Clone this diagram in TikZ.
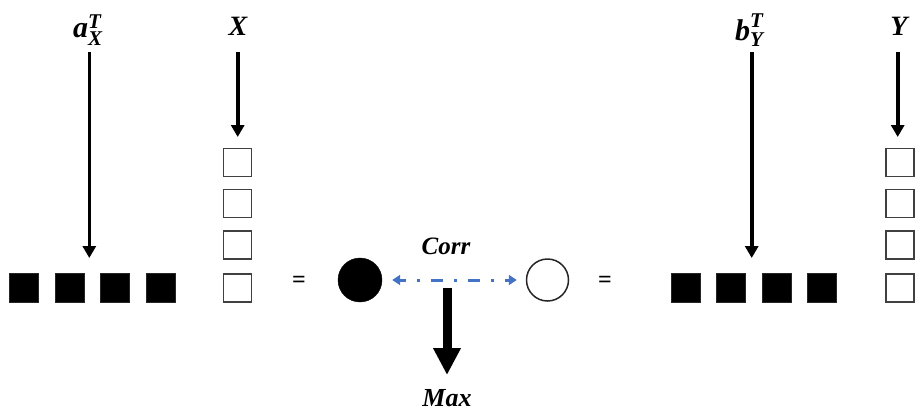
\documentclass[tikz,border=0pt]{standalone}
\usepackage{amsmath}
\usepackage{fontspec}
\setmainfont{Liberation Serif}
\usetikzlibrary{arrows.meta}
\definecolor{corrblue}{HTML}{4472C4}
\begin{document}
\begin{tikzpicture}[x=1pt,y=-1pt,
  bsq/.style={draw=black!85,fill=black,minimum size=29pt,inner sep=0pt,line width=0.8pt},
  wsq/.style={draw=black!75,fill=white,minimum size=28pt,inner sep=0pt,line width=1.6pt},
  arr/.style={line width=3.6pt,-{Triangle[width=13pt,length=12pt]}},
  lbl/.style={font=\fontsize{28}{30}\selectfont\bfseries\itshape,inner sep=0pt},
  mlbl/.style={font=\fontsize{30}{32}\selectfont,inner sep=0pt},
  eqs/.style={font=\fontsize{24}{26}\selectfont\bfseries,inner sep=0pt},
  corrarr/.style={draw=corrblue,line width=3pt,dash pattern=on 12pt off 11pt on 3pt off 11pt,dash phase=6pt,
     {Triangle[width=10pt,length=8pt]}-{Triangle[width=10pt,length=8pt]}},
  bigarr/.style={line width=9pt,-{Triangle[width=26pt,length=27pt]}}]
\useasboundingbox (0,0) rectangle (915,410);

% labels
\node[mlbl] (aX) at (88,30) {$\textbf{\textit{a}}^{\textbf{\textit{T}}}_{\textbf{\textit{X}}}$};
\node[lbl] (X) at (238,26) {X};
\node[mlbl] (bY) at (750,30) {$\textbf{\textit{b}}^{\textbf{\textit{T}}}_{\textbf{\textit{Y}}}$};
\node[lbl] (Y) at (899,26) {Y};

% left black row
\node[bsq] (a1) at (23.5,288) {};
\node[bsq] (a2) at (69.5,288) {};
\node[bsq] (a3) at (115,288) {};
\node[bsq] (a4) at (161,288) {};
% left white column
\node[wsq] (x1) at (237.5,162.5) {};
\node[wsq] (x2) at (237.5,203.5) {};
\node[wsq] (x3) at (237.5,245) {};
\node[wsq] (x4) at (237.5,288) {};
% right black row
\node[bsq] (b1) at (685.5,288) {};
\node[bsq] (b2) at (731,288) {};
\node[bsq] (b3) at (776.5,288) {};
\node[bsq] (b4) at (821.5,288) {};
% right white column
\node[wsq] (y1) at (900,162.5) {};
\node[wsq] (y2) at (900,203.5) {};
\node[wsq] (y3) at (900,245) {};
\node[wsq] (y4) at (900,288) {};

% equals
\node[eqs] (eq1) at (299,282) {=};
\node[eqs] (eq2) at (605,282) {=};

% circles
\node[circle,fill=black,draw=black,minimum size=44pt,inner sep=0pt] (bc) at (360,280) {};
\node[circle,fill=white,draw=black!85,line width=1.5pt,minimum size=42pt,inner sep=0pt] (wc) at (547.5,280) {};

\node[lbl,font=\fontsize{25}{27}\selectfont\bfseries\itshape] (corr) at (446,246) {Corr};
\node[lbl,font=\fontsize{26}{28}\selectfont\bfseries\itshape,anchor=base] (max) at (447,406) {Max};

% arrows
\coordinate (aS) at (89.3,52);
\coordinate (aE) at (89.3,258);
\coordinate (xS) at (237.7,52);
\coordinate (xE) at (237.7,137);
\coordinate (bS) at (751.7,52);
\coordinate (bE) at (751.7,258);
\coordinate (yS) at (897.7,52);
\coordinate (yE) at (897.7,137);
\draw[arr] (aS) -- (aE);
\draw[arr] (xS) -- (xE);
\draw[arr] (bS) -- (bE);
\draw[arr] (yS) -- (yE);

\draw[corrarr,shorten <=10pt,shorten >=9pt] (bc.east) -- (wc.west);

\coordinate (mS) at (447,288);
\coordinate (mE) at (447,375);
\draw[bigarr] (mS) -- (mE);
\end{tikzpicture}
\end{document}
